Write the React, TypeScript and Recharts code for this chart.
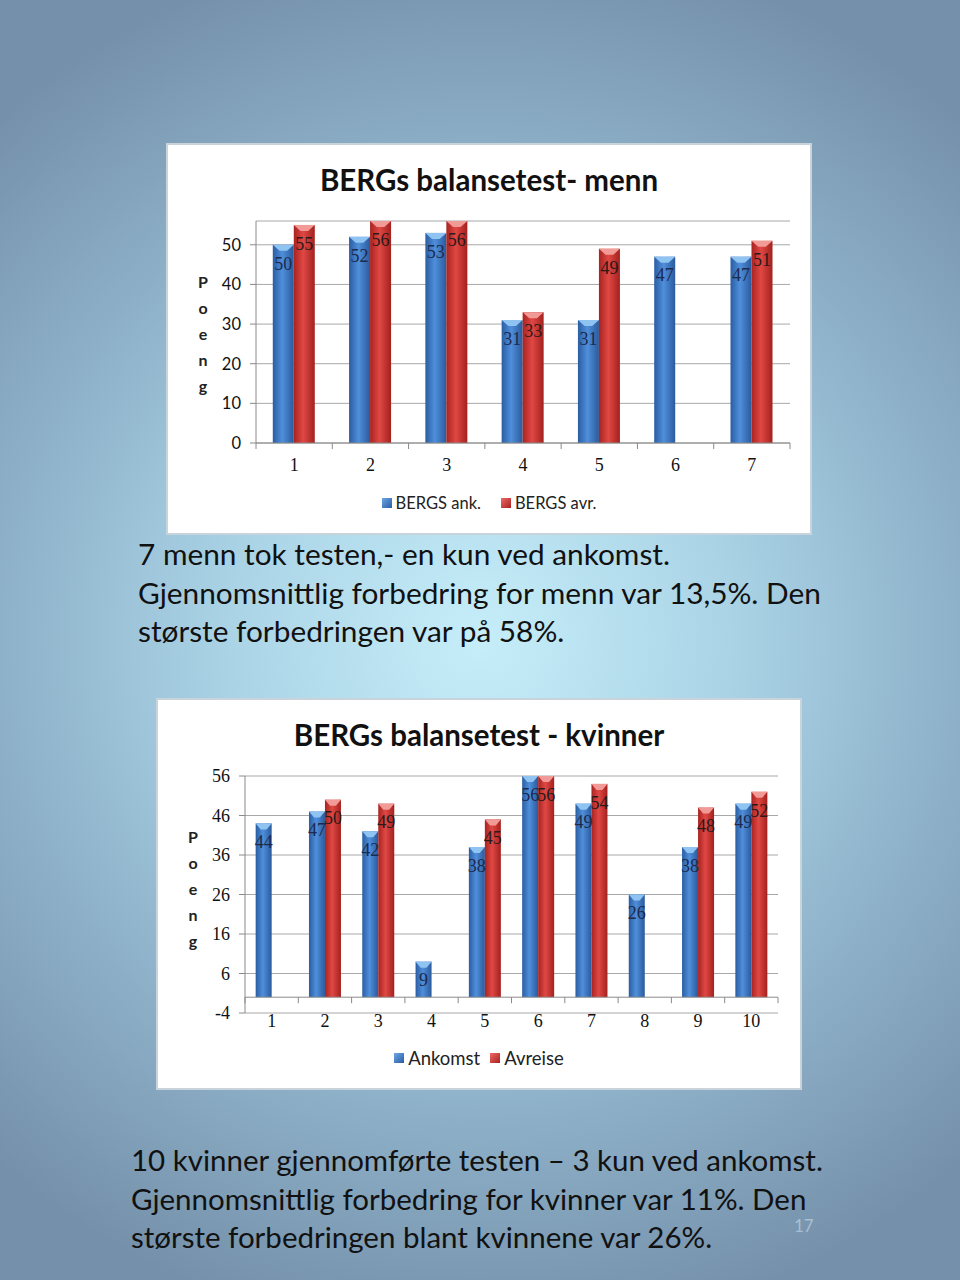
import React from 'react';
import { BarChart, Bar, XAxis, YAxis, CartesianGrid, LabelList, ReferenceLine } from 'recharts';

// ---------- data ----------
const menCategories = ['1', '2', '3', '4', '5', '6', '7'];
const menArrival: (number | null)[] = [50, 52, 53, 31, 31, 47, 47];
const menDeparture: (number | null)[] = [55, 56, 56, 33, 49, null, 51];
const menYTicks = [0, 10, 20, 30, 40, 50];
const menSeriesNames = ['BERGS ank.', 'BERGS avr.'];

const womenCategories = ['1', '2', '3', '4', '5', '6', '7', '8', '9', '10'];
const womenArrival: (number | null)[] = [44, 47, 42, 9, 38, 56, 49, 26, 38, 49];
const womenDeparture: (number | null)[] = [null, 50, 49, null, 45, 56, 54, null, 48, 52];
const womenYTicks = [-4, 6, 16, 26, 36, 46, 56];
const womenSeriesNames = ['Ankomst', 'Avreise'];

const menText = [
  '7 menn tok testen,- en kun ved ankomst.',
  'Gjennomsnittlig forbedring for menn var 13,5%. Den',
  'største forbedringen var på 58%.',
];
const womenText = [
  '10 kvinner gjennomførte testen – 3 kun ved ankomst.',
  'Gjennomsnittlig forbedring for kvinner var 11%. Den',
  'største forbedringen blant kvinnene var 26%.',
];

const SANS = 'Lato, "Open Sans", sans-serif';
const SERIF = '"Liberation Serif", "DejaVu Serif", serif';

type ChartCfg = {
  left: number;
  top: number;
  title: string;
  categories: string[];
  a: (number | null)[];
  b: (number | null)[];
  names: string[];
  ticks: number[];
  domain: [number, number];
  margin: { top: number; right: number; bottom: number; left: number };
  yWidth: number;
  xHeight: number;
  gap: string;
  yTickFont: string;
  labelDy: number;
  legendGap: number;
  legendFont: number;
  idp: string;
};

const W = 642;
const H = 388;

function BarShape(props: any) {
  const { x, y, width, height, fill, cap } = props;
  if (!height || height <= 0 || isNaN(height)) return null;
  const c = Math.min(6, height);
  return (
    <g>
      <rect x={x} y={y} width={width} height={height} fill={fill} />
      <path
        d={`M${x},${y} L${x + width},${y} L${x + width * 0.68},${y + c} L${x + width * 0.32},${y + c} Z`}
        fill={cap}
      />
    </g>
  );
}

function Chart({ cfg }: { cfg: ChartCfg }) {
  const data = cfg.categories.map((c, i) => ({ cat: c, a: cfg.a[i], b: cfg.b[i] }));
  const plotW = W - cfg.margin.left - cfg.yWidth - cfg.margin.right;
  const plotH = H - cfg.margin.top - cfg.margin.bottom - cfg.xHeight;
  const band = plotW / cfg.categories.length;
  const zeroShift = ((0 - cfg.domain[0]) * plotH) / (cfg.domain[1] - cfg.domain[0]);
  const n = cfg.categories.length;

  const XTick = (p: any) => {
    const { x, y, payload, index } = p;
    const zeroY = y - zeroShift;
    return (
      <g>
        <line x1={x - band / 2} x2={x - band / 2} y1={zeroY} y2={zeroY + 6} stroke="#8a8a8a" />
        {index === n - 1 && (
          <line x1={x + band / 2} x2={x + band / 2} y1={zeroY} y2={zeroY + 6} stroke="#8a8a8a" />
        )}
        <text
          x={x}
          y={y + cfg.labelDy}
          textAnchor="middle"
          dominantBaseline="central"
          fontFamily={SERIF}
          fontSize={18}
          fill="#111"
        >
          {payload.value}
        </text>
      </g>
    );
  };

  const ga = `${cfg.idp}-blue`;
  const gb = `${cfg.idp}-red`;

  return (
    <div
      style={{
        position: 'absolute',
        left: cfg.left,
        top: cfg.top,
        width: W,
        height: H,
        background: '#ffffff',
        boxShadow: '0 0 0 2px #c9d3db',
      }}
    >
      <div
        style={{
          position: 'absolute',
          left: 0,
          top: 18,
          width: W,
          textAlign: 'center',
          fontFamily: SANS,
          fontWeight: 700,
          fontSize: 29.5,
          lineHeight: '34px',
          color: '#111',
        }}
      >
        {cfg.title}
      </div>
      <div
        style={{
          position: 'absolute',
          left: 26,
          top: 124,
          width: 18,
          textAlign: 'center',
          fontFamily: SANS,
          fontWeight: 700,
          fontSize: 16,
          lineHeight: '26px',
          color: '#222',
        }}
      >
        {'Poeng'.split('').map((ch, i) => (
          <div key={i}>{ch}</div>
        ))}
      </div>
      <BarChart
        width={W}
        height={H}
        data={data}
        margin={cfg.margin}
        barGap={0}
        barCategoryGap={cfg.gap}
      >
        <defs>
          <linearGradient id={ga} x1="0" y1="0" x2="1" y2="0">
            <stop offset="0%" stopColor="#2a5da3" />
            <stop offset="45%" stopColor="#4f8fdb" />
            <stop offset="100%" stopColor="#2b5a9c" />
          </linearGradient>
          <linearGradient id={gb} x1="0" y1="0" x2="1" y2="0">
            <stop offset="0%" stopColor="#a82320" />
            <stop offset="45%" stopColor="#e04844" />
            <stop offset="100%" stopColor="#a3211e" />
          </linearGradient>
        </defs>
        <CartesianGrid vertical={false} stroke="#a8a8a8" />
        <XAxis
          dataKey="cat"
          height={cfg.xHeight}
          axisLine={false}
          tickLine={false}
          tickSize={0}
          tickMargin={0}
          interval={0}
          tick={XTick}
        />
        <YAxis
          width={cfg.yWidth}
          domain={cfg.domain}
          ticks={cfg.ticks}
          allowDataOverflow
          axisLine={{ stroke: '#8a8a8a' }}
          tickLine={{ stroke: '#8a8a8a' }}
          tickSize={6}
          tickMargin={9}
          tick={{ fontFamily: cfg.yTickFont, fontSize: cfg.yTickFont === SERIF ? 18 : 16.5, fill: '#111' }}
        />
        <ReferenceLine y={0} stroke="#8a8a8a" />
        <Bar
          dataKey="a"
          fill={`url(#${ga})`}
          isAnimationActive={false}
          shape={(p: any) => <BarShape {...p} cap="#8fc3f2" />}
        >
          <LabelList
            dataKey="a"
            position="insideTop"
            offset={12}
            fill="#1c2a4e"
            fontFamily={SERIF}
            fontSize={18}
          />
        </Bar>
        <Bar
          dataKey="b"
          fill={`url(#${gb})`}
          isAnimationActive={false}
          shape={(p: any) => <BarShape {...p} cap="#f29a96" />}
        >
          <LabelList
            dataKey="b"
            position="insideTop"
            offset={12}
            fill="#2a1a1a"
            fontFamily={SERIF}
            fontSize={18}
          />
        </Bar>
      </BarChart>
      <div
        style={{
          position: 'absolute',
          left: 0,
          top: 347,
          width: W,
          display: 'flex',
          justifyContent: 'center',
          alignItems: 'center',
          gap: cfg.legendGap,
          fontFamily: SANS,
          fontSize: cfg.legendFont,
          lineHeight: '22px',
          color: '#222',
        }}
      >
        {cfg.names.map((nm, i) => (
          <div key={nm} style={{ display: 'flex', alignItems: 'center', gap: 4 }}>
            <span
              style={{
                display: 'inline-block',
                width: 10,
                height: 10,
                background: i === 0 ? 'linear-gradient(135deg,#6ea6e6,#2a5da3)' : 'linear-gradient(135deg,#ef6a66,#a82320)',
              }}
            />
            <span>{nm}</span>
          </div>
        ))}
      </div>
    </div>
  );
}

const menCfg: ChartCfg = {
  left: 168,
  top: 145,
  title: 'BERGs balansetest- menn',
  categories: menCategories,
  a: menArrival,
  b: menDeparture,
  names: menSeriesNames,
  ticks: menYTicks,
  domain: [0, 56],
  margin: { top: 76, right: 20, bottom: 60, left: 28 },
  yWidth: 60,
  xHeight: 30,
  gap: '22%',
  yTickFont: SANS,
  labelDy: 22,
  legendGap: 20,
  legendFont: 16.5,
  idp: 'men',
};

const womenCfg: ChartCfg = {
  left: 158,
  top: 700,
  title: 'BERGs balansetest - kvinner',
  categories: womenCategories,
  a: womenArrival,
  b: womenDeparture,
  names: womenSeriesNames,
  ticks: womenYTicks,
  domain: [-4, 56],
  margin: { top: 76, right: 22, bottom: 50, left: 27 },
  yWidth: 60,
  xHeight: 25,
  gap: '20%',
  yTickFont: SERIF,
  labelDy: 8,
  legendGap: 10,
  legendFont: 18.5,
  idp: 'women',
};

export default function App() {
  const para = (lines: string[], left: number, top: number, fs: number) => (
    <div
      style={{
        position: 'absolute',
        left,
        top: top + 4.25,
        fontFamily: SANS,
        fontSize: fs,
        color: '#111',
        whiteSpace: 'nowrap',
      }}
    >
      {lines.map((l, i) => (
        <div key={i} style={{ lineHeight: '30px', height: 30, marginBottom: 8.5 }}>
          {l}
        </div>
      ))}
    </div>
  );
  return (
    <div
      style={{
        position: 'absolute',
        left: 0,
        top: 0,
        width: 960,
        height: 1280,
        overflow: 'hidden',
        background:
          'radial-gradient(ellipse 75% 55% at 50% 50%, #c6eef9 0%, #aad3e6 35%, #8fb3ca 65%, #7590aa 100%)',
      }}
    >
      <Chart cfg={menCfg} />
      {para(menText, 138, 535, 29.8)}
      <Chart cfg={womenCfg} />
      {para(womenText, 131, 1141, 29.5)}
      <div
        style={{
          position: 'absolute',
          left: 794,
          top: 1219,
          fontFamily: SANS,
          fontSize: 17,
          lineHeight: '14px',
          color: 'rgba(190,210,225,0.7)',
        }}
      >
        17
      </div>
    </div>
  );
}
